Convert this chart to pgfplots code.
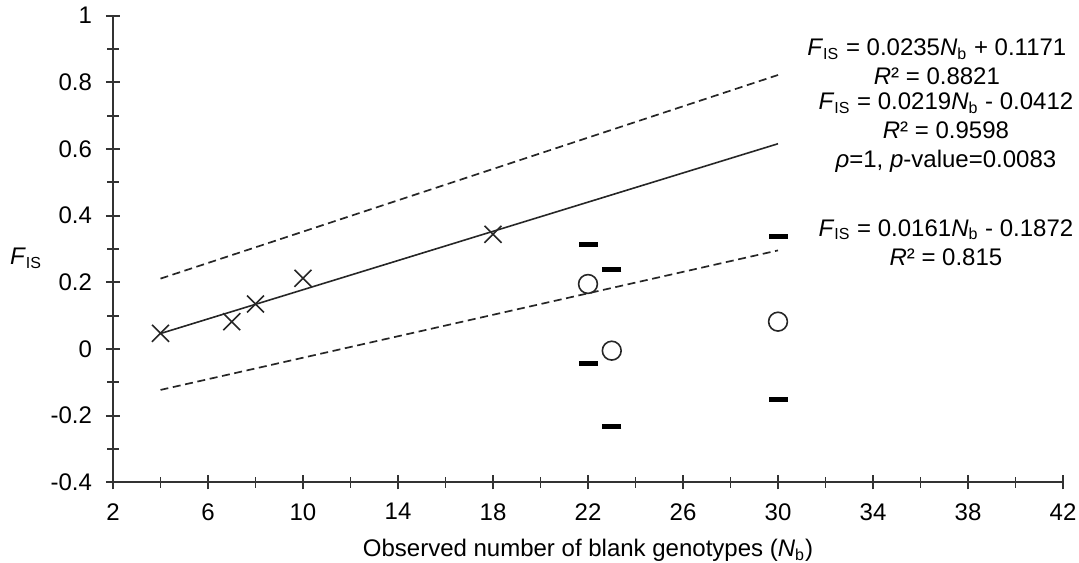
\documentclass[border=0pt]{standalone}
\usepackage{fontspec}
\setmainfont{Liberation Sans}
\usepackage{pgfplots}
\pgfplotsset{compat=1.18}
\begin{document}
\begin{tikzpicture}
\begin{axis}[
  at={(0pt,0pt)}, anchor=south west,
  scale only axis, width=475pt, height=233.3pt,
  xmin=2, xmax=42, ymin=-0.4, ymax=1,
  axis x line=bottom, axis y line=left,
  axis line style={-, line width=0.9pt, black!80},
  xtick={2,6,...,42}, minor xtick={4,8,...,40},
  ytick={-0.4,-0.2,0,0.2,0.4,0.6,0.8,1},
  yticklabels={-0.4,-0.2,0,0.2,0.4,0.6,0.8,1},
  minor ytick={-0.3,-0.1,0.1,0.3,0.5,0.7,0.9},
  tick align=center,
  major tick length=7pt, minor tick length=5.5pt,
  every tick/.style={black!80, line width=0.9pt},
  tick label style={font=\fontsize{12}{14}\selectfont},
  yticklabel style={xshift=-3.5pt},
  xticklabel style={yshift=-3.5pt},
  /pgf/number format/assume math mode=true,
  every axis x label/.style={at={(axis description cs:0.5,0)}, anchor=center, yshift=-34pt, font=\fontsize{12}{14}\selectfont},
  every axis y label/.style={at={(axis description cs:-0.0916,0.48)}, anchor=center, font=\fontsize{12}{14}\selectfont},
  xlabel={Observed number of blank genotypes (\textit{N}\textsubscript{b})},
  ylabel={\textit{F}\textsubscript{IS}},
  clip=false,
]
% trend lines
\addplot[black!85, line width=0.8pt] coordinates {(4,0.0464) (30,0.6158)};
\addplot[black!85, line width=0.85pt, dash pattern=on 4pt off 2.3pt] coordinates {(4,0.2111) (30,0.8221)};
\addplot[black!85, line width=0.85pt, dash pattern=on 4pt off 2.3pt] coordinates {(4,-0.1228) (30,0.2958)};
% data
\addplot[black!85, only marks, mark=x, mark size=6pt, line width=0.8pt] coordinates {(4,0.047) (7,0.082) (8,0.135) (10,0.212) (18,0.344)};
\addplot[black!85, only marks, mark=o, mark size=4.7pt, line width=0.8pt, fill=white] coordinates {(22,0.195) (23,-0.005) (30,0.082)};
\addplot[black, only marks, mark=-, mark size=4.75pt, line width=2.2pt] coordinates {(22,0.314) (22,-0.043) (23,0.239) (23,-0.233) (30,0.337) (30,-0.151)};
% equations
\node[align=center, font=\fontsize{12}{14.5}\selectfont] at (axis cs:36.69,0.861)
  {\textit{F}\textsubscript{IS} = 0.0235\textit{N}\textsubscript{b} + 0.1171\\\textit{R}² = 0.8821};
\node[align=center, font=\fontsize{12}{14.5}\selectfont] at (axis cs:37.07,0.648)
  {\textit{F}\textsubscript{IS} = 0.0219\textit{N}\textsubscript{b} - 0.0412\\\textit{R}² = 0.9598\\\textit{ρ}=1, \textit{p}-value=0.0083};
\node[align=center, font=\fontsize{12}{14.5}\selectfont] at (axis cs:37.07,0.3195)
  {\textit{F}\textsubscript{IS} = 0.0161\textit{N}\textsubscript{b} - 0.1872\\\textit{R}² = 0.815};
\end{axis}
\pgfresetboundingbox
\path[use as bounding box] (-56.5pt,-39.85pt) rectangle (483pt,241.15pt);
\end{tikzpicture}
\end{document}
